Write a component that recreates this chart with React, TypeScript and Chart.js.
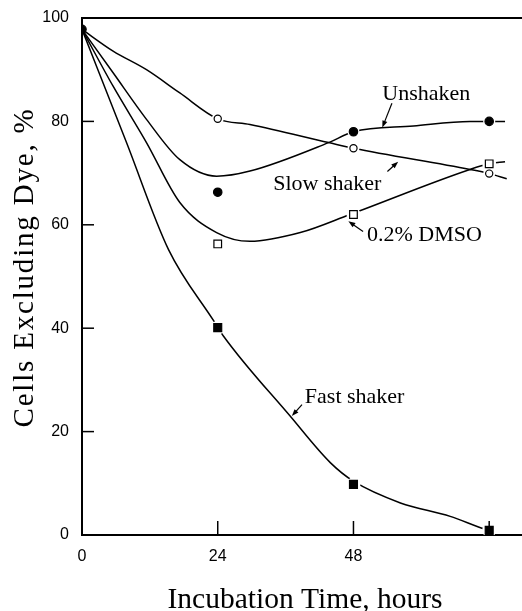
import React, { useEffect, useRef } from 'react';
import { Chart, registerables } from 'chart.js';

Chart.register(...registerables);

// Measured points (hours, % cells excluding dye)
const hours = [0, 24, 48, 72];
const unshaken = [97.8, 66.3, 78.0, 80.0];
const slowShaker = [97.8, 80.5, 74.8, 69.9];
const dmso = [97.8, 56.3, 62.0, 71.8];
const fastShaker = [97.8, 40.1, 9.8, 0.9];

// Hand-drawn fitted curves: [hour, %]
const unshakenCurve = [[0, 97.8], [5.5, 89.4], [11.4, 80.4], [17.3, 72.6], [23.8, 69.4], [29.7, 70.4], [43.6, 75.9], [48, 78.0], [58.6, 79.1], [68.6, 80.0], [72, 80.0], [74.8, 80.0]];
const slowCurve = [[0, 97.8], [5.5, 93.6], [11.4, 90.0], [17.3, 85.5], [24, 80.5], [29.7, 79.4], [43.6, 75.9], [48, 74.8], [68.6, 70.7], [72, 69.9], [75.1, 68.9]];
const dmsoCurve = [[0, 97.8], [5.5, 86.8], [11.4, 75.9], [17.3, 64.3], [23.8, 58.5], [29.7, 56.8], [38.6, 58.5], [47.4, 62.0], [68.6, 70.7], [72, 71.8], [74.8, 72.2]];
const fastCurve = [[0, 97.8], [7.8, 76.1], [15.3, 55.2], [23.3, 41.4], [25.0, 38.5], [36.8, 23.0], [43.9, 14.0], [48, 10.4], [56.3, 6.2], [65.1, 3.6], [71.3, 1.1], [72, 0.9]];

// Axis ticks
const xTicks = [0, 24, 48, 72];
const xTickLabels = ['0', '24', '48', ''];
const yTicks = [0, 20, 40, 60, 80, 100];

// Curve labels with arrows (data coordinates)
const labelTexts = ['Unshaken', 'Slow shaker', '0.2% DMSO', 'Fast shaker'];
const labelAt = [[53.1, 84.2], [33.8, 66.8], [50.4, 56.8], [39.4, 25.6]];
const arrowFrom = [[54.8, 83.5], [54.0, 70.3], [49.7, 58.7], [38.9, 25.2]];
const arrowTo = [[53.1, 78.8], [55.9, 72.2], [47.1, 60.7], [37.1, 23.0]];

const xTitle = 'Incubation Time, hours';
const yTitle = 'Cells Excluding Dye, %';

const SERIF = '"Liberation Serif", "DejaVu Serif", serif';
const SANS = '"Liberation Sans", Arial, sans-serif';

const toXY = (arr: number[][]) => arr.map(([x, y]) => ({ x, y }));
const pts = (vals: number[]) => hours.map((h, i) => ({ x: h, y: vals[i] }));

const decorPlugin = {
  id: 'decor',
  afterDatasetsDraw(chart: any) {
    const { ctx, chartArea, scales } = chart;
    const xs = scales.x;
    const ys = scales.y;
    ctx.save();
    ctx.strokeStyle = '#000';
    ctx.fillStyle = '#000';
    // top border
    ctx.lineWidth = 2;
    ctx.beginPath();
    ctx.moveTo(chartArea.left, chartArea.top);
    ctx.lineTo(chartArea.right, chartArea.top);
    ctx.stroke();
    // inward tick marks
    ctx.lineWidth = 1.5;
    xTicks.forEach((t) => {
      if (t === 0) return;
      const px = xs.getPixelForValue(t);
      ctx.beginPath();
      ctx.moveTo(px, chartArea.bottom);
      ctx.lineTo(px, chartArea.bottom - 14);
      ctx.stroke();
    });
    yTicks.forEach((t) => {
      if (t === 0 || t === 100) return;
      const py = ys.getPixelForValue(t);
      ctx.beginPath();
      ctx.moveTo(chartArea.left, py);
      ctx.lineTo(chartArea.left + 12, py);
      ctx.stroke();
    });
    // labels
    ctx.font = `22px ${SERIF}`;
    ctx.textAlign = 'left';
    ctx.textBaseline = 'alphabetic';
    labelTexts.forEach((txt, i) => {
      ctx.fillText(txt, xs.getPixelForValue(labelAt[i][0]), ys.getPixelForValue(labelAt[i][1]));
      const x1 = xs.getPixelForValue(arrowFrom[i][0]);
      const y1 = ys.getPixelForValue(arrowFrom[i][1]);
      const x2 = xs.getPixelForValue(arrowTo[i][0]);
      const y2 = ys.getPixelForValue(arrowTo[i][1]);
      const ang = Math.atan2(y2 - y1, x2 - x1);
      const hl = 7;
      const hw = 2.6;
      ctx.lineWidth = 1.2;
      ctx.beginPath();
      ctx.moveTo(x1, y1);
      ctx.lineTo(x2 - Math.cos(ang) * hl * 0.8, y2 - Math.sin(ang) * hl * 0.8);
      ctx.stroke();
      ctx.beginPath();
      ctx.moveTo(x2, y2);
      ctx.lineTo(x2 - Math.cos(ang) * hl - Math.sin(ang) * hw, y2 - Math.sin(ang) * hl + Math.cos(ang) * hw);
      ctx.lineTo(x2 - Math.cos(ang) * hl + Math.sin(ang) * hw, y2 - Math.sin(ang) * hl - Math.cos(ang) * hw);
      ctx.closePath();
      ctx.fill();
    });
    // axis titles
    ctx.font = `29.5px ${SERIF}`;
    ctx.textAlign = 'center';
    ctx.fillText(xTitle, 305, 608);
    ctx.save();
    ctx.translate(33, 267.5);
    ctx.rotate(-Math.PI / 2);
    ctx.font = `29px ${SERIF}`;
    try { (ctx as any).letterSpacing = '1.8px'; } catch (e) { /* ignore */ }
    ctx.fillText(yTitle, 0, 0);
    ctx.restore();
    ctx.restore();
  },
};

export default function App() {
  const ref = useRef<HTMLCanvasElement | null>(null);
  useEffect(() => {
    document.body.style.margin = '0';
    const canvas = ref.current;
    if (!canvas) return;
    const curve = (data: number[][]) => ({
      data: toXY(data),
      showLine: true,
      borderColor: '#000',
      borderWidth: 1.5,
      pointRadius: 0,
      cubicInterpolationMode: 'monotone' as const,
      fill: false,
      order: 5,
    });
    const halo = (vals: number[], r: number, skipFirst: boolean) => ({
      data: pts(vals),
      showLine: false,
      pointRadius: vals.map((_, i) => (skipFirst && i === 0 ? 0 : r)),
      pointBackgroundColor: '#fff',
      pointBorderWidth: 0,
      pointBorderColor: '#fff',
      order: 3,
    });
    const marker = (vals: number[], style: string, r: number, filled: boolean, skipFirst: boolean, order: number) => ({
      data: pts(vals),
      showLine: false,
      pointStyle: style,
      pointRadius: vals.map((_, i) => (skipFirst && i === 0 ? 0 : r)),
      pointBackgroundColor: filled ? '#000' : '#fff',
      pointBorderColor: '#000',
      pointBorderWidth: 1.2,
      order,
    });
    const chart = new Chart(canvas, {
      type: 'scatter',
      data: {
        datasets: [
          curve(unshakenCurve) as any,
          curve(slowCurve) as any,
          curve(dmsoCurve) as any,
          curve(fastCurve) as any,
          halo(unshaken, 6, true),
          halo(slowShaker, 6, true),
          halo(dmso, 7, true),
          halo(fastShaker, 7, true),
          marker(slowShaker, 'circle', 3.6, false, true, 2),
          marker(dmso, 'rect', 5.4, false, true, 2),
          marker(fastShaker, 'rect', 5.6, true, true, 2),
          marker(unshaken, 'circle', 4.2, true, false, 1),
        ],
      },
      options: {
        responsive: false,
        animation: false,
        devicePixelRatio: 1,
        events: [],
        layout: { autoPadding: false, padding: { top: 18, left: 0, right: 0, bottom: 0 } },
        plugins: { legend: { display: false }, tooltip: { enabled: false }, title: { display: false } },
        scales: {
          x: {
            type: 'linear',
            min: 0,
            max: 77.8,
            grid: { display: false },
            border: { display: true, color: '#000', width: 2 },
            afterBuildTicks: (scale: any) => {
              scale.ticks = xTicks.map((v) => ({ value: v }));
            },
            afterFit: (scale: any) => {
              scale.height = 76;
              scale.paddingLeft = 0;
              scale.paddingRight = 0;
            },
            ticks: {
              color: '#000',
              font: { family: SANS, size: 16 },
              padding: 4,
              maxRotation: 0,
              autoSkip: false,
              callback: (v: any) => xTickLabels[xTicks.indexOf(Number(v))] ?? '',
            },
          },
          y: {
            type: 'linear',
            min: 0,
            max: 100,
            grid: { display: false },
            border: { display: true, color: '#000', width: 2 },
            afterBuildTicks: (scale: any) => {
              scale.ticks = yTicks.map((v) => ({ value: v }));
            },
            afterFit: (scale: any) => {
              scale.width = 82;
              scale.paddingTop = 0;
              scale.paddingBottom = 0;
            },
            ticks: {
              color: '#000',
              font: { family: SANS, size: 16 },
              padding: 5,
              callback: (v: any) => String(v),
            },
          },
        },
      },
      plugins: [decorPlugin],
    });
    return () => chart.destroy();
  }, []);
  return <canvas ref={ref} width={522} height={611} style={{ display: 'block', width: 522, height: 611 }} />;
}
